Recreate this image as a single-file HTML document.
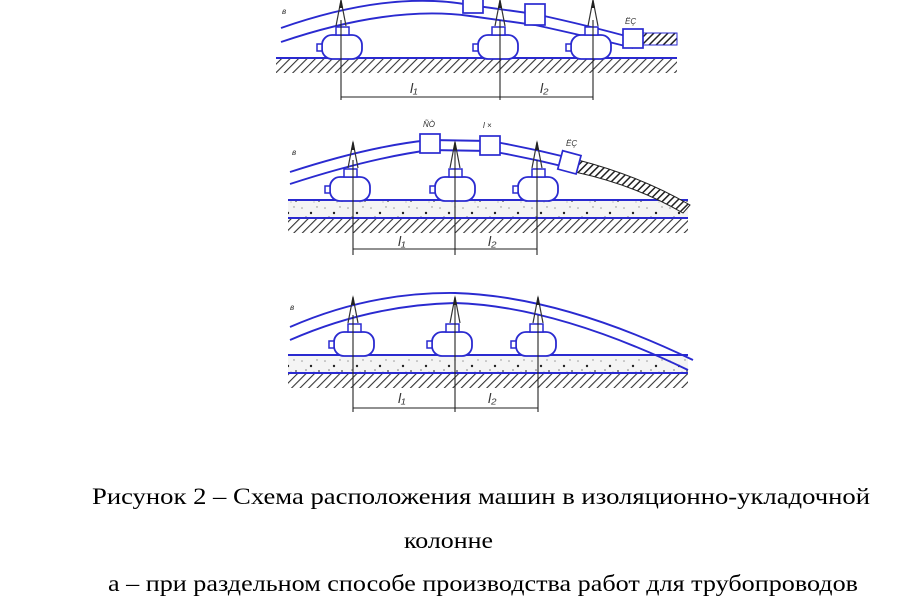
<!DOCTYPE html>
<html><head><meta charset="utf-8"><style>
html,body{margin:0;padding:0;background:#fff;width:900px;height:600px;overflow:hidden}
svg{display:block}
</style></head><body>
<svg width="900" height="600" viewBox="0 0 900 600" xmlns="http://www.w3.org/2000/svg">
<defs>
<pattern id="h" width="6" height="6" patternUnits="userSpaceOnUse" patternTransform="rotate(45)">
<rect width="6" height="6" fill="#fff"/><line x1="0" y1="0" x2="0" y2="6" stroke="#333" stroke-width="2.2"/></pattern>
<pattern id="hb" width="5" height="5" patternUnits="userSpaceOnUse" patternTransform="rotate(45)">
<rect width="5" height="5" fill="#fff"/><line x1="0" y1="0" x2="0" y2="5" stroke="#222" stroke-width="3"/></pattern>
<pattern id="s" width="23" height="17" patternUnits="userSpaceOnUse">
<rect width="23" height="17" fill="#f4f4f4"/>
<circle cx="3" cy="4" r="0.8" fill="#999"/><circle cx="12" cy="9" r="1.2" fill="#222"/>
<circle cx="18" cy="3" r="0.7" fill="#888"/><circle cx="7" cy="13" r="0.8" fill="#777"/>
<circle cx="20" cy="14" r="0.9" fill="#444"/><circle cx="15" cy="15" r="0.6" fill="#aaa"/></pattern>
<g id="m">
<rect x="-20" y="-23" width="40" height="24" rx="10" fill="#fff" stroke="#2a2ad0" stroke-width="1.8"/>
<rect x="-25" y="-14" width="5" height="7" fill="#fff" stroke="#2a2ad0" stroke-width="1.5"/>
<rect x="-6" y="-31" width="13" height="8" fill="#fff" stroke="#2a2ad0" stroke-width="1.5"/>
</g>
<g id="b">
<path d="M-5,-32 L0,-58 L5,-32" fill="none" stroke="#333" stroke-width="1.2"/>
<path d="M-2,-50 L0,-60 L2,-50 Z" fill="#222"/>
</g>
</defs>
<g fill="none" stroke="#2a2ad0" stroke-width="1.9">
<rect x="276" y="58" width="401" height="15" fill="url(#h)" stroke="none"/>
<line x1="276" y1="58" x2="677" y2="58"/>
<path d="M281,28 Q390,-10 470,5 L535,14 Q590,26 633,38"/>
<path d="M281,42 Q390,5 470,16 L535,25 Q590,37 633,48"/>
</g>
<rect x="643" y="33" width="34" height="12" fill="url(#hb)" stroke="#2a2ad0"/>
<use href="#m" x="342" y="58"/><use href="#m" x="498" y="58"/><use href="#m" x="591" y="58"/>
<use href="#b" x="341" y="58"/><use href="#b" x="500" y="58"/><use href="#b" x="593" y="58"/>
<g fill="#fff" stroke="#2a2ad0" stroke-width="1.7">
<rect x="463" y="-1" width="20" height="14"/><rect x="525" y="4" width="20" height="21"/><rect x="623" y="29" width="20" height="19"/>
</g>
<rect x="288" y="200" width="400" height="18" fill="url(#s)"/>
<rect x="288" y="218" width="400" height="15" fill="url(#h)"/>
<g fill="none" stroke="#2a2ad0" stroke-width="1.9">
<line x1="288" y1="200" x2="688" y2="200"/><line x1="288" y1="218" x2="688" y2="218"/>
<path d="M290,172 Q370,146 430,140 L490,141 Q530,148 570,158"/>
<path d="M290,184 Q370,158 430,150 L490,151 Q530,158 570,168"/>
</g>
<path d="M578,160 Q640,176 690,205 L683,213 Q635,185 575,172 Z" fill="url(#hb)" stroke="#222"/>
<use href="#m" x="350" y="200"/><use href="#m" x="455" y="200"/><use href="#m" x="538" y="200"/>
<use href="#b" x="353" y="200"/><use href="#b" x="455" y="200"/><use href="#b" x="537" y="200"/>
<g fill="#fff" stroke="#2a2ad0" stroke-width="1.7">
<rect x="420" y="134" width="20" height="19"/><rect x="480" y="136" width="20" height="19"/>
<rect x="560" y="153" width="19" height="19" transform="rotate(15 570 162)"/>
</g>
<rect x="288" y="355" width="400" height="18" fill="url(#s)"/>
<rect x="288" y="373" width="400" height="15" fill="url(#h)"/>
<g fill="none" stroke="#2a2ad0" stroke-width="1.9">
<line x1="288" y1="355" x2="688" y2="355"/><line x1="288" y1="373" x2="688" y2="373"/>
<path d="M290,327 Q370,292 455,293 Q560,296 693,360"/>
<path d="M290,340 Q370,305 455,303 Q555,306 688,370"/>
</g>
<use href="#m" x="354" y="355"/><use href="#m" x="452" y="355"/><use href="#m" x="536" y="355"/>
<use href="#b" x="353" y="355"/><use href="#b" x="455" y="355"/><use href="#b" x="538" y="355"/>
<g stroke="#222" stroke-width="1.1" fill="none">
<line x1="341" y1="20" x2="341" y2="100"/><line x1="500" y1="20" x2="500" y2="100"/><line x1="593" y1="20" x2="593" y2="100"/>
<line x1="341" y1="97" x2="593" y2="97"/>
<line x1="353" y1="160" x2="353" y2="255"/><line x1="455" y1="150" x2="455" y2="255"/><line x1="537" y1="160" x2="537" y2="255"/>
<line x1="353" y1="249" x2="537" y2="249"/>
<line x1="353" y1="315" x2="353" y2="412"/><line x1="455" y1="300" x2="455" y2="412"/><line x1="538" y1="315" x2="538" y2="412"/>
<line x1="353" y1="408" x2="538" y2="408"/>
</g>
<g font-family="Liberation Sans, sans-serif" font-style="italic" fill="#333">
<text x="410" y="93" font-size="14">l₁</text><text x="540" y="93" font-size="14">l₂</text>
<text x="398" y="246" font-size="14">l₁</text><text x="488" y="246" font-size="14">l₂</text>
<text x="398" y="403" font-size="14">l₁</text><text x="488" y="403" font-size="14">l₂</text>
<text x="282" y="14" font-size="8">в</text><text x="292" y="155" font-size="8">в</text><text x="290" y="310" font-size="8">в</text>
<text x="625" y="24" font-size="8">ЁÇ</text><text x="423" y="127" font-size="8">ÑÒ</text>
<text x="483" y="128" font-size="8">l ×</text><text x="566" y="146" font-size="8">ЁÇ</text>
</g>
<g font-family="Liberation Serif, serif" font-size="23" fill="#000">
<text x="92" y="504" textLength="778" lengthAdjust="spacingAndGlyphs">Рисунок 2 – Схема расположения машин в изоляционно-укладочной</text>
<text x="404" y="548" textLength="89" lengthAdjust="spacingAndGlyphs">колонне</text>
<text x="108" y="591" textLength="750" lengthAdjust="spacingAndGlyphs">а – при раздельном способе производства работ для трубопроводов</text>
</g>
</svg>
</body></html>
